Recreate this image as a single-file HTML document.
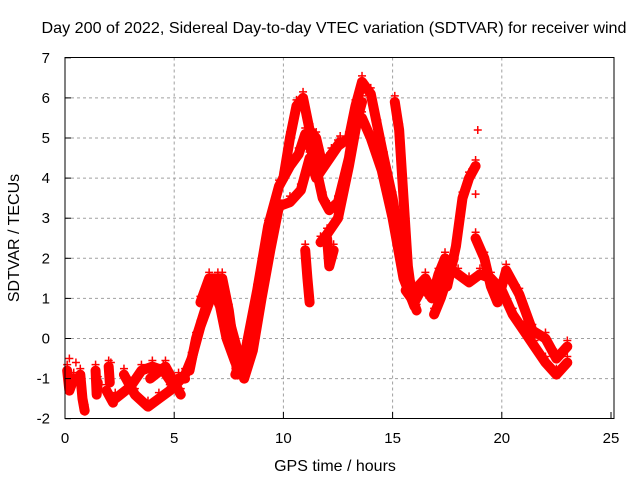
<!DOCTYPE html>
<html><head><meta charset="utf-8"><style>
body{margin:0;background:#fff}
svg{display:block;font-family:"Liberation Sans",sans-serif}
</style></head><body>
<svg id="chart" width="640" height="480">
<rect width="640" height="480" fill="#fff"/>
<text x="334" y="33" font-size="16" text-anchor="middle" textLength="585" lengthAdjust="spacingAndGlyphs">Day 200 of 2022, Sidereal Day-to-day VTEC variation (SDTVAR) for receiver wind</text>
<g id="grid"></g>
<g id="series"></g>
<rect x="65" y="57.5" width="549" height="361" fill="none" stroke="#000" stroke-width="1"/>
<g id="ticks"></g>
<text x="335" y="471" font-size="16" text-anchor="middle">GPS time / hours</text>
<text transform="translate(19,238) rotate(-90)" font-size="16" text-anchor="middle">SDTVAR / TECUs</text>
</svg>
<script>
const xTicks=[0,5,10,15,20,25];
const yTicks=[-2,-1,0,1,2,3,4,5,6,7];
const trackMain=[[2.3,-1.5],[3,-1.2],[3.5,-0.8],[4,-0.7],[4.5,-0.8],[5,-1.2],[5.5,-0.9],[5.8,-0.5],[6.2,0.3],[6.6,0.9],[7,1.5],[7.3,1.0],[7.6,0.3],[8,-0.5],[8.2,-1.0],[8.6,-0.3],[9,1.0],[9.4,2.2],[9.8,3.3],[10.3,3.4],[10.8,3.7],[11.2,4.5],[11.5,4.0],[12,4.4],[12.5,4.8],[13,5.0],[13.3,5.8],[13.6,6.4],[14,6.1],[14.3,5.3],[14.6,4.5],[15,3.5],[15.3,2.5],[15.6,1.5],[16,1.2],[16.5,1.5],[17,1.0],[17.5,1.8],[18,1.6],[18.5,1.4],[19,1.6],[19.5,1.5],[20,1.2],[20.5,0.6],[21,0.2],[21.5,-0.2],[22,-0.6],[22.5,-0.9],[23,-0.6]];
const trackLoop=[[2.7,-0.9],[3.2,-1.4],[3.8,-1.7],[4.3,-1.5],[4.8,-1.3],[5.2,-1.0],[5.5,-1.0]];
const trackCross=[[3.9,-1.0],[4.6,-0.7],[5.3,-1.4]];
const trackHump=[[5.7,-0.8],[6.0,0.0],[6.4,0.7],[6.8,1.2],[7.1,0.8],[7.4,0.0],[7.8,-0.6]];
const trackHump2=[[6.2,0.9],[6.6,1.5],[7.2,1.5],[7.5,0.7],[7.9,-0.9]];
const trackUpper=[[7.8,-0.9],[8.3,-0.2],[8.8,1.2],[9.3,2.8],[9.8,3.8],[10.3,4.3],[10.7,4.6],[11,5.1],[11.4,4.5],[11.8,3.5],[12.1,3.2],[12.5,3.4],[13,4.5],[13.3,5.5],[13.6,5.5],[14,5.0],[14.5,4.2],[15,3.0],[15.5,1.5],[16,0.8]];
const trackSpike=[[10.0,4.0],[10.3,5.0],[10.6,5.8],[10.9,6.0],[11.2,5.2],[11.5,5.0],[11.8,4.3],[12.2,4.6],[12.6,4.9]];
const trackMid=[[11.7,2.4],[12,2.6],[12.5,3.0],[13,4.3],[13.4,5.5],[13.6,5.9]];
const trackDrop1=[[11.0,2.2],[11.1,1.5],[11.2,0.9]];
const trackDrop2=[[12.0,2.5],[12.1,1.8],[12.3,2.2]];
const trackLate=[[15.1,5.9],[15.3,5.2],[15.5,3.5],[15.7,1.8],[15.9,1.0],[16.1,0.7]];
const trackLow=[[15.6,1.2],[16.0,0.9],[16.4,1.3],[16.8,1.0],[17.1,1.6],[17.4,2.0]];
const trackRise=[[17.5,1.3],[17.9,2.3],[18.2,3.5],[18.5,4.0],[18.8,4.3]];
const trackFall=[[18.8,2.5],[19.2,2.0],[19.5,1.3],[19.8,0.9],[20.2,1.7],[20.8,1.1],[21.4,0.2],[22,0],[22.5,-0.5],[23,-0.2]];
const trackDip=[[16.9,0.6],[17.2,1.0],[17.5,1.5],[17.8,2.0]];
const isolated=[[18.9,5.2],[18.8,3.6],[0.2,-0.5],[0.5,-0.6],[2.1,-0.6]];
const noise=[[[0.1,-0.8],[0.2,-1.3],[0.4,-1.0]],[[0.7,-0.9],[0.8,-1.5],[0.9,-1.8]],[[1.4,-0.8],[1.45,-1.4],[1.5,-1.1]],[[2.0,-0.7],[2.05,-1.1]],[[1.9,-1.3],[2.2,-1.6]]];
const tracks=[trackMain,trackLoop,trackCross,trackHump,trackHump2,trackUpper,trackSpike,trackMid,trackDrop1,trackDrop2,trackLate,trackLow,trackRise,trackFall,trackDip].concat(noise);
const X=t=>65+t*21.84, Y=v=>338.5-v*40.1;
const NS="http://www.w3.org/2000/svg";
const grid=document.getElementById('grid'),ticks=document.getElementById('ticks'),ser=document.getElementById('series');
function mk(tag,a,p){const e=document.createElementNS(NS,tag);for(const k in a)e.setAttribute(k,a[k]);p.appendChild(e);return e;}
xTicks.forEach(t=>{
 if(t>0&&t<25){const g=mk('line',{x1:X(t),x2:X(t),y1:57.5,y2:418.5,stroke:'#a0a0a0','stroke-dasharray':'3,3'},grid);
 
 }
 const l=mk('text',{x:X(t),y:443,'font-size':15,'text-anchor':'middle'},ticks);l.textContent=t;
 
 
 mk('line',{x1:X(t),x2:X(t),y1:418.5,y2:412,stroke:'#000'},ticks);
});
yTicks.forEach(v=>{
 if(v>-2&&v<7){const g=mk('line',{x1:65,x2:614,y1:Y(v),y2:Y(v),stroke:'#a0a0a0','stroke-dasharray':'3,3'},grid);
 
 }
 const l=mk('text',{x:50,y:Y(v)+5,'font-size':15,'text-anchor':'end'},ticks);l.textContent=v;
 
 
 mk('line',{x1:65,x2:71,y1:Y(v),y2:Y(v),stroke:'#000'},ticks);
});
function plus(t,v){
 const g=mk('path',{d:`M${X(t)-4},${Y(v)}h8M${X(t)},${Y(v)-4}v8`,stroke:'#f00','stroke-width':1.5,fill:'none'},ser);
 
 
}
tracks.forEach(tr=>{
 const p=mk('polyline',{points:tr.map(d=>X(d[0])+','+Y(d[1])).join(' '),stroke:'#f00','stroke-width':10,fill:'none','stroke-linejoin':'round','stroke-linecap':'round'},ser);
 
 
 tr.forEach(d=>plus(d[0],d[1]+0.15));
});
isolated.forEach(d=>plus(d[0],d[1]));
</script>
</body></html>
